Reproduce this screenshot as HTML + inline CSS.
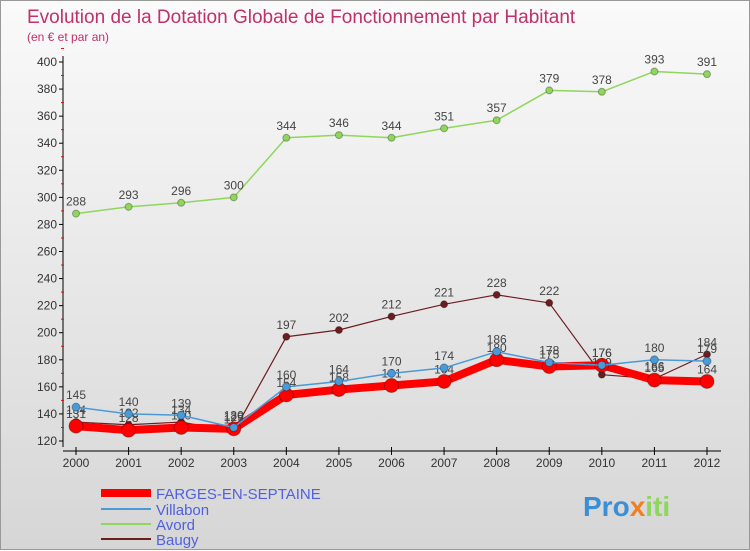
<!DOCTYPE html>
<html><head><meta charset="utf-8"><style>
body{margin:0;width:750px;height:550px;overflow:hidden;font-family:"Liberation Sans",sans-serif}
#c{position:absolute;left:0;top:0;width:748px;height:548px;border:1px solid #999;background:linear-gradient(#fafafa,#d6d6d6)}
</style></head><body>
<div id="c">
<svg id="s" width="750" height="550" style="position:absolute;left:0;top:0">
<text x="26" y="22" font-size="19" fill="#c0306a">Evolution de la Dotation Globale de Fonctionnement par Habitant</text>
<text x="26" y="40" font-size="12" fill="#c0306a">(en € et par an)</text>
<g id="axes"></g><g id="series"></g>
<g>
<line x1="100" y1="492" x2="150" y2="492" stroke="#f00" stroke-width="8"/>
<text x="155" y="498" font-size="15" fill="#5060e0">FARGES-EN-SEPTAINE</text>
<line x1="100" y1="508" x2="150" y2="508" stroke="#4a9ad8" stroke-width="2"/>
<text x="155" y="514" font-size="15" fill="#5060e0">Villabon</text>
<line x1="100" y1="523" x2="150" y2="523" stroke="#8fd65c" stroke-width="2"/>
<text x="155" y="529" font-size="15" fill="#5060e0">Avord</text>
<line x1="100" y1="538" x2="150" y2="538" stroke="#6d1c1f" stroke-width="2"/>
<text x="155" y="544" font-size="15" fill="#5060e0">Baugy</text>
</g>
<text x="582" y="515" font-size="28" font-weight="bold" fill="#3a8fd8">Pro<tspan fill="#f08020">x</tspan><tspan fill="#8fd65c">iti</tspan></text>
</svg></div>
<script>
const years=[2000,2001,2002,2003,2004,2005,2006,2007,2008,2009,2010,2011,2012];
const farges=[131,128,130,129,154,158,161,164,180,175,176,165,164];
const villabon=[145,140,139,130,160,164,170,174,186,178,176,180,179];
const avord=[288,293,296,300,344,346,344,351,357,379,378,393,391];
const baugy=[134,132,134,127,197,202,212,221,228,222,169,166,184];
const yTicks=[120,140,160,180,200,220,240,260,280,300,320,340,360,380,400];
const NS='http://www.w3.org/2000/svg';
const X=i=>75+i*(706-75)/(years.length-1);
const Y=v=>440-(v-120)*(440-61)/280;
function mk(t,a,p){const e=document.createElementNS(NS,t);for(const k in a)e.setAttribute(k,a[k]);p.appendChild(e);return e;}
const ax=document.getElementById('axes'),sr=document.getElementById('series');
const yl=mk('line',{x1:62,y1:55,x2:62,y2:446,stroke:'#000'},ax);


const xl=mk('line',{x1:62,y1:450,x2:720,y2:450,stroke:'#000'},ax);


yTicks.forEach(v=>{
 mk('line',{x1:58,y1:Y(v),x2:62,y2:Y(v),stroke:'#000'},ax);
 mk('line',{x1:60,y1:Y(v+10),x2:63,y2:Y(v+10),stroke:'#f00'},ax);
 const t=mk('text',{x:56,y:Y(v)+4,'font-size':12,'text-anchor':'end',fill:'#333'},ax);t.textContent=v;
 
 
});
years.forEach((y,i)=>{
 mk('line',{x1:X(i),y1:446,x2:X(i),y2:454,stroke:'#000'},ax);
 const t=mk('text',{x:X(i),y:466,'font-size':12,'text-anchor':'middle',fill:'#333'},ax);t.textContent=y;
 
 
});
function series(data,color,w,r,name,lblAbove){
 const g=mk('g',{},sr);
 
 
 mk('polyline',{points:data.map((v,i)=>X(i)+','+Y(v)).join(' '),fill:'none',stroke:color,'stroke-width':w,'stroke-linejoin':'round'},g);
 data.forEach((v,i)=>{
  const c=mk('circle',{cx:X(i),cy:Y(v),r:r,fill:color,stroke:'rgba(0,0,0,0.3)'},g);
  
  
  const t=mk('text',{x:X(i),y:Y(v)-8,'font-size':12,'text-anchor':'middle',fill:'#444'},g);t.textContent=v;
  
  
 });
}
series(avord,'#8fd65c',1.5,3.5,'series-avord');
series(baugy,'#6d1c1f',1.2,3.5,'series-baugy');
series(farges,'#f00',8,7,'series-farges');
series(villabon,'#4a9ad8',1.5,4,'series-villabon');
</script>
</body></html>
